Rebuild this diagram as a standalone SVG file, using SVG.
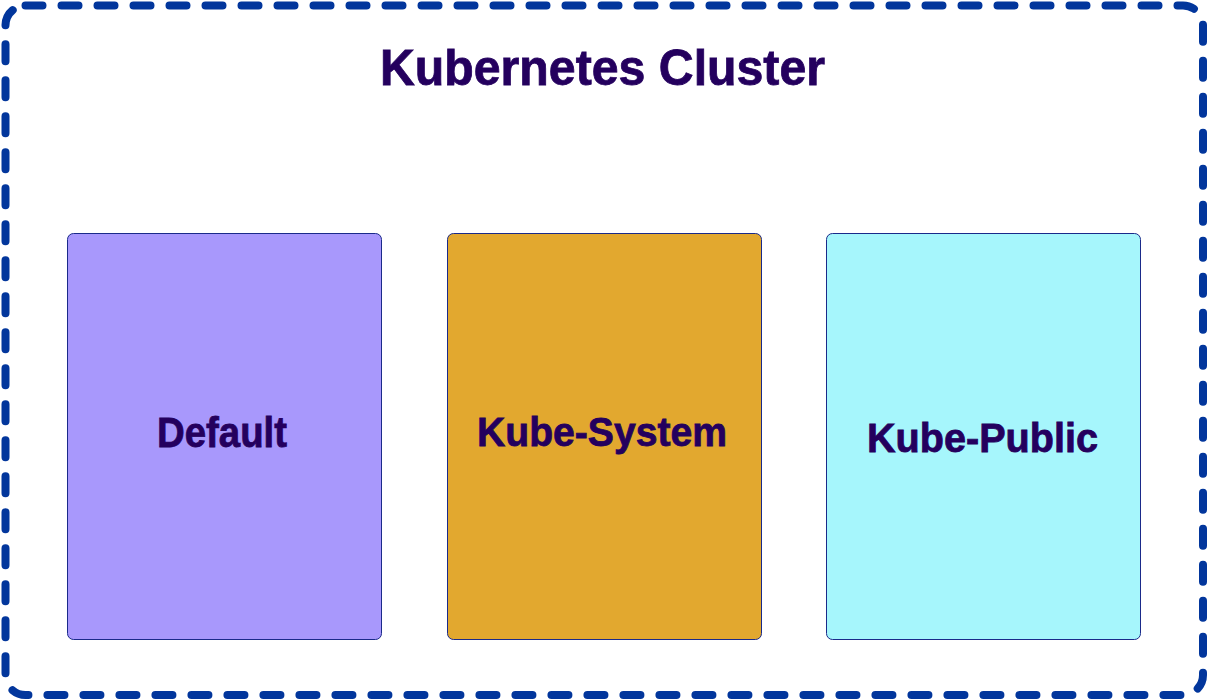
<svg xmlns="http://www.w3.org/2000/svg" width="1208" height="700" viewBox="0 0 1208 700">
<style>
.lbl{font-family:"Liberation Sans","Noto Sans",sans-serif;font-weight:bold;fill:#24005e;stroke:#24005e;stroke-width:0.8;}
.ns{stroke:#1a2a8a;stroke-width:1;}
</style>
<rect width="1208" height="700" fill="#ffffff"/>
<g id="cluster">
<rect x="5.5" y="5.5" width="1197.5" height="689.5" rx="20" ry="20" fill="none" stroke="#02369c" stroke-width="8" stroke-linecap="round" stroke-dasharray="17 19"/>
<text class="lbl" x="380" y="85" font-size="50" textLength="445" lengthAdjust="spacingAndGlyphs">Kubernetes Cluster</text>
</g>
<g id="default">
<rect class="ns" x="67.5" y="233.5" width="314" height="406" rx="6" fill="#a898fc"/>
<text class="lbl" x="157" y="447" font-size="43" textLength="130" lengthAdjust="spacingAndGlyphs">Default</text>
</g>
<g id="kube-system">
<rect class="ns" x="447.5" y="233.5" width="314" height="406" rx="6" fill="#e2a82f"/>
<text class="lbl" x="477" y="446" font-size="41" textLength="250" lengthAdjust="spacingAndGlyphs">Kube-System</text>
</g>
<g id="kube-public">
<rect class="ns" x="826.5" y="233.5" width="314" height="406" rx="6" fill="#a6f6fc"/>
<text class="lbl" x="867" y="452" font-size="41" textLength="231" lengthAdjust="spacingAndGlyphs">Kube-Public</text>
</g>
<g id="connectors"/>
</svg>
